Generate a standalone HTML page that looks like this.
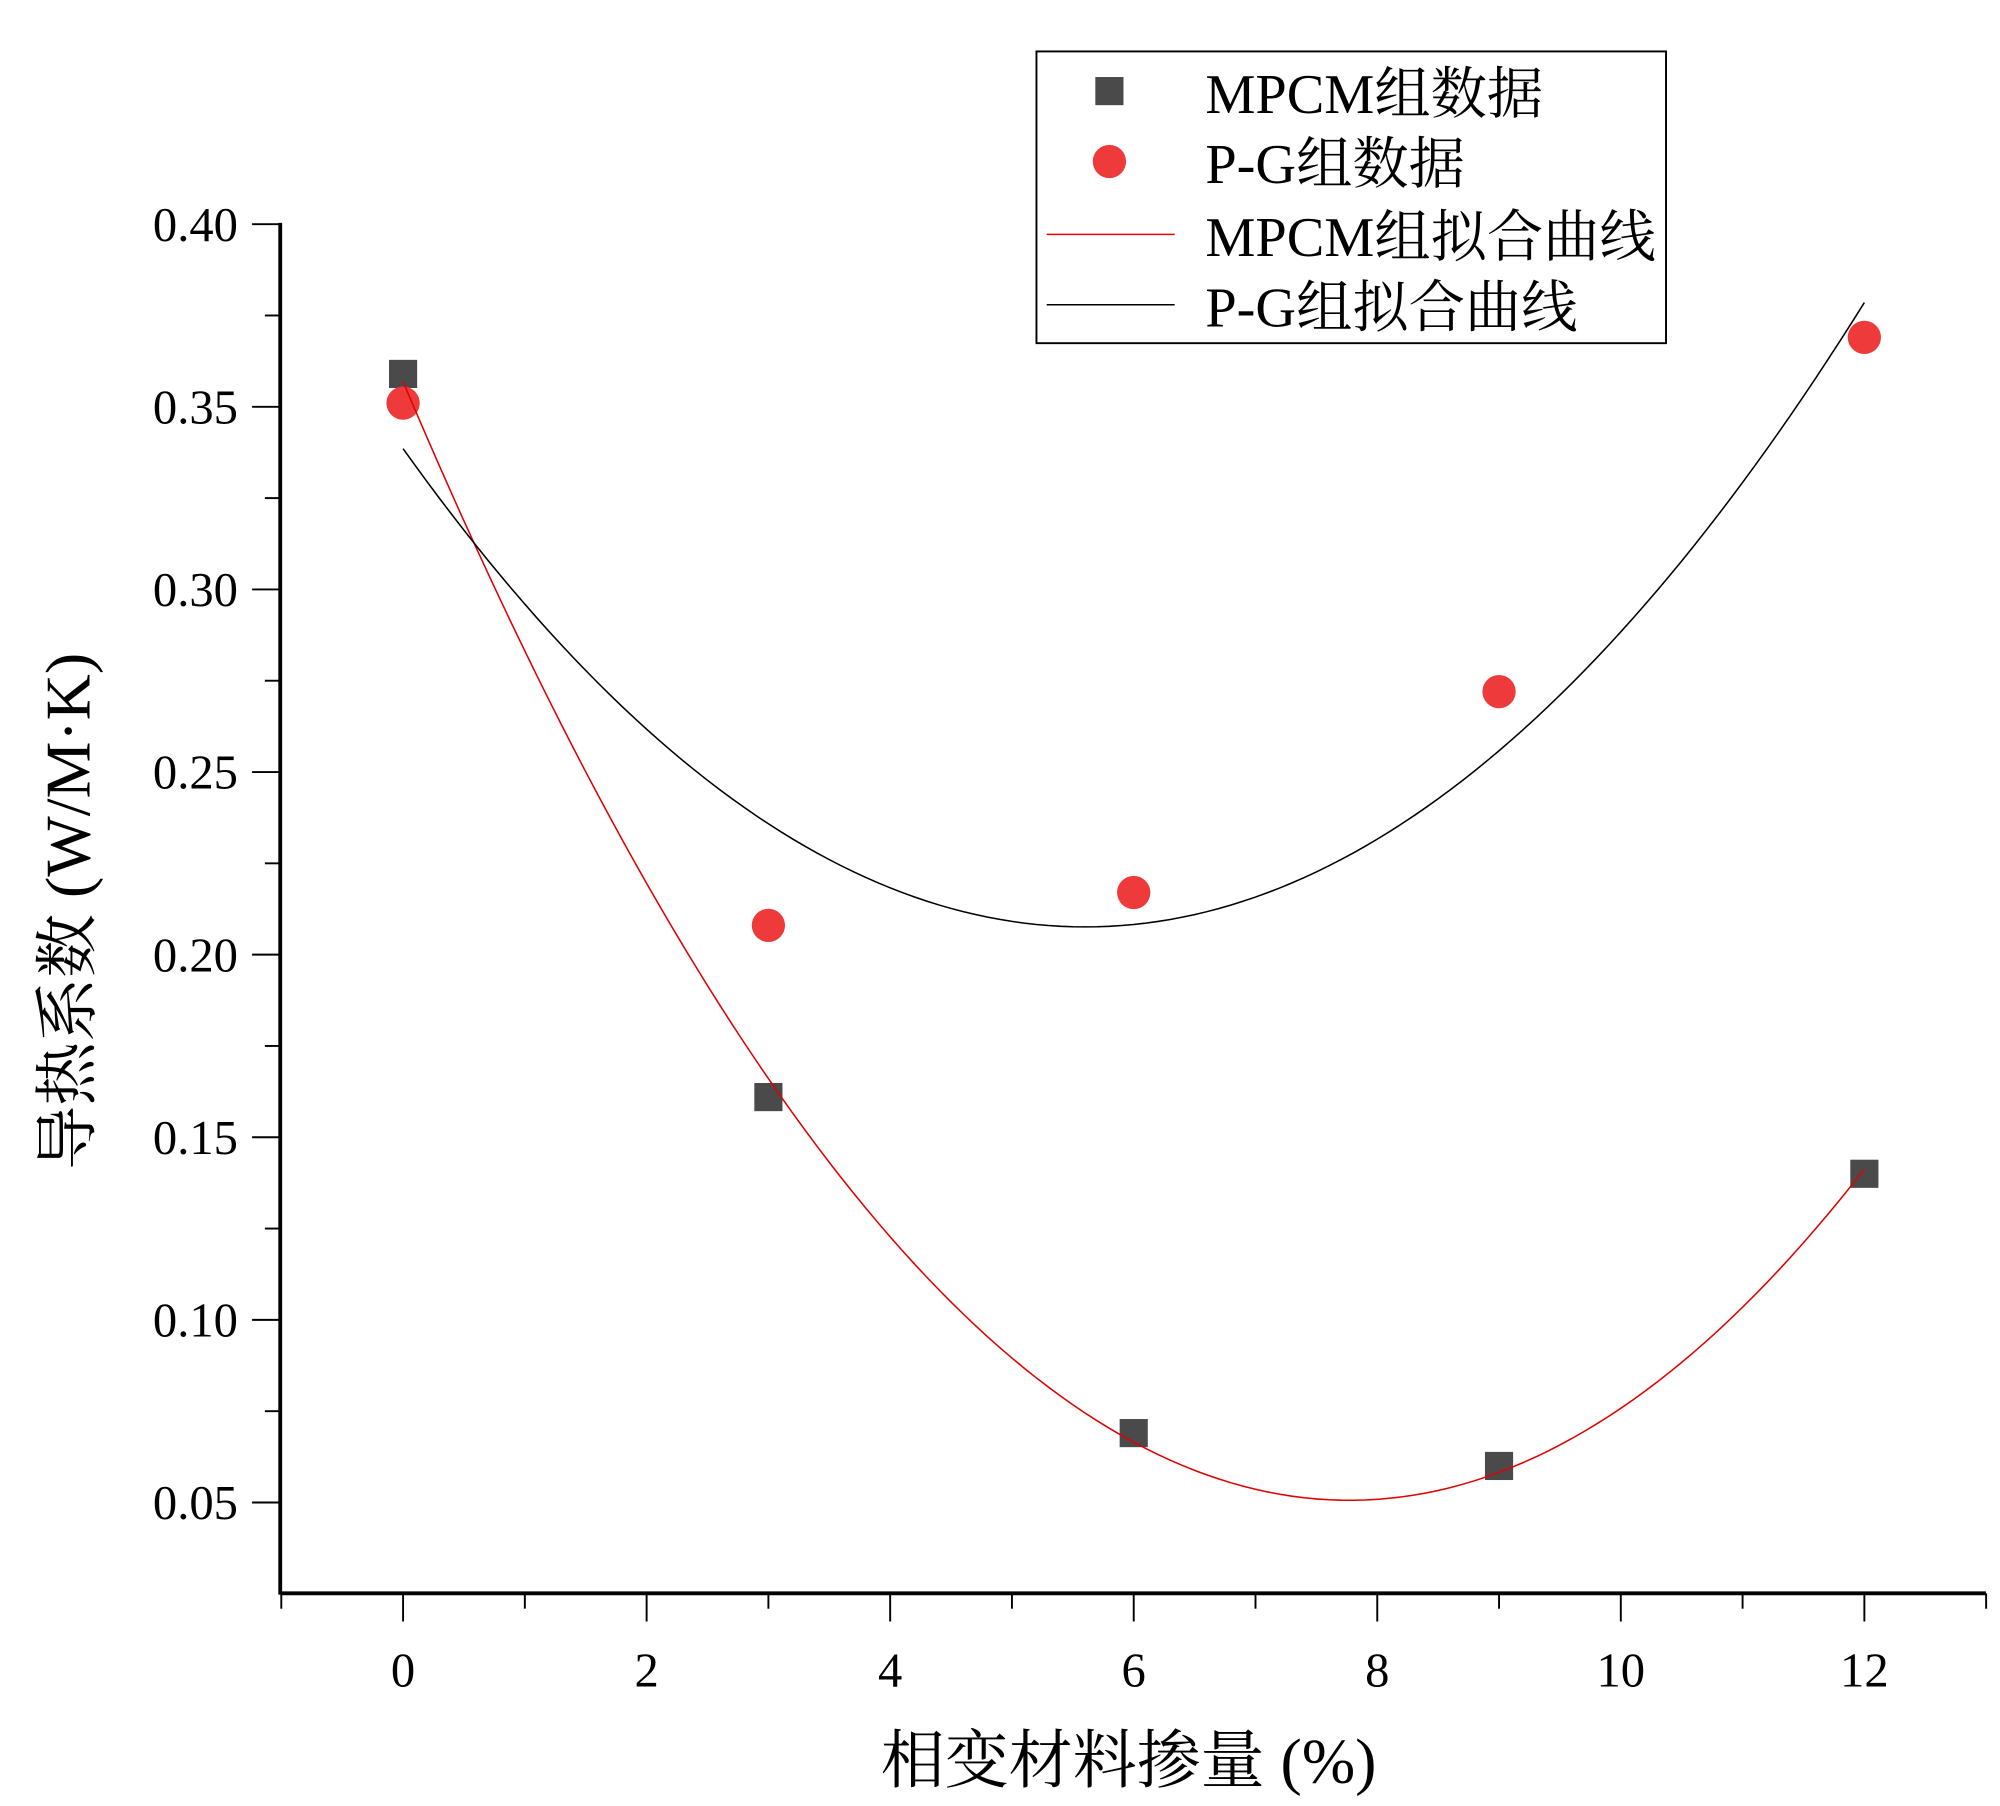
<!DOCTYPE html>
<html><head><meta charset="utf-8"><style>html,body{margin:0;padding:0;background:#fff}svg{display:block}</style></head>
<body>
<svg id="chart" width="2000" height="1806" viewBox="0 0 1563 1411" xmlns="http://www.w3.org/2000/svg" font-family="'Liberation Serif','Noto Serif CJK SC',serif">
<rect width="1563" height="1411" fill="#fff"/>
<g id="plot"></g>
<g>
<rect x="810" y="40" width="492" height="228" fill="#fff" stroke="#000" stroke-width="1.5"/>
<rect x="856" y="60" width="22" height="22" fill="#4a4a4a"/>
<text x="942" y="88" font-size="44">MPCM组数据</text>
<circle cx="867" cy="126" r="13" fill="#ee3a3a"/>
<text x="942" y="143" font-size="44">P-G组数据</text>
<line x1="818" y1="183" x2="918" y2="183" stroke="#e00" stroke-width="1.2"/>
<text x="942" y="200" font-size="44">MPCM组拟合曲线</text>
<line x1="818" y1="238" x2="918" y2="238" stroke="#000" stroke-width="1.2"/>
<text x="942" y="255" font-size="44">P-G组拟合曲线</text>
</g>
<text x="882" y="1393" font-size="50" text-anchor="middle">相变材料掺量 (%)</text>
<text transform="translate(70,712) rotate(-90)" font-size="50" text-anchor="middle">导热系数 (W/M·K)</text>
</svg>
<script>
const xs = [0, 3, 6, 9, 12];
const mpcm = [0.359, 0.161, 0.069, 0.060, 0.140];
const pg = [0.351, 0.208, 0.217, 0.272, 0.369];
const xTicks = [0, 2, 4, 6, 8, 10, 12];
const yTicks = [0.05, 0.10, 0.15, 0.20, 0.25, 0.30, 0.35, 0.40];
const yTickLabels = ["0.05", "0.10", "0.15", "0.20", "0.25", "0.30", "0.35", "0.40"];

const NS = "http://www.w3.org/2000/svg";
const X0 = 315, XS = (1457 - 315) / 12;
const Y0 = 175, YS = (1174 - 175) / 0.35;
const sx = v => X0 + v * XS;
const sy = v => Y0 + (0.40 - v) * YS;
const g = document.getElementById('plot');
function el(tag, attrs) { const e = document.createElementNS(NS, tag); for (const k in attrs) e.setAttribute(k, attrs[k]); g.appendChild(e); return e; }

// axes
let a = el('line', {x1: 219, y1: 1245, x2: 1552, y2: 1245, stroke: '#000', 'stroke-width': 3});


a = el('line', {x1: 219, y1: 174, x2: 219, y2: 1246, stroke: '#000', 'stroke-width': 3});



// x ticks
for (let v = -1; v <= 13; v++) {
  const major = v % 2 === 0;
  const t = el('line', {x1: sx(v), y1: 1245, x2: sx(v), y2: 1245 + (major ? 22 : 12), stroke: '#000', 'stroke-width': 1.5});
  
  
}
xTicks.forEach(v => {
  const t = el('text', {x: sx(v), y: 1318, 'font-size': 38, 'text-anchor': 'middle'});
  t.textContent = v;
  
  
});
// y ticks
for (let i = 1; i <= 15; i++) {
  const v = 0.025 * i + 0.025;
  if (v > 0.4001) break;
  const major = i % 2 === 1;
  const t = el('line', {x1: 219, y1: sy(v), x2: 219 - (major ? 22 : 12), y2: sy(v), stroke: '#000', 'stroke-width': 1.5});
  
  
}
yTicks.forEach((v, i) => {
  const t = el('text', {x: 186, y: sy(v) + 13, 'font-size': 38, 'text-anchor': 'end'});
  t.textContent = yTickLabels[i];
  
  
});

// quadratic least squares fit
function quadFit(x, y) {
  const S = k => x.reduce((s, xi) => s + Math.pow(xi, k), 0);
  const T = k => x.reduce((s, xi, i) => s + Math.pow(xi, k) * y[i], 0);
  const M = [[S(0), S(1), S(2), T(0)], [S(1), S(2), S(3), T(1)], [S(2), S(3), S(4), T(2)]];
  for (let i = 0; i < 3; i++) {
    for (let j = i + 1; j < 3; j++) { const f = M[j][i] / M[i][i]; for (let k = i; k < 4; k++) M[j][k] -= f * M[i][k]; }
  }
  const c = [0, 0, 0];
  for (let i = 2; i >= 0; i--) { let s = M[i][3]; for (let k = i + 1; k < 3; k++) s -= M[i][k] * c[k]; c[i] = s / M[i][i]; }
  return c;
}
function curve(ys, color, name) {
  const c = quadFit(xs, ys);
  let d = '';
  for (let i = 0; i <= 120; i++) { const x = 12 * i / 120; const y = c[0] + c[1] * x + c[2] * x * x; d += (i ? 'L' : 'M') + sx(x).toFixed(2) + ',' + sy(y).toFixed(2); }
  const p = el('path', {d: d, fill: 'none', stroke: color, 'stroke-width': 1.2});
  
  
}
xs.forEach((x, i) => {
  const r = el('rect', {x: sx(x) - 11, y: sy(mpcm[i]) - 11, width: 22, height: 22, fill: '#4a4a4a'});
  
  
});
xs.forEach((x, i) => {
  const c = el('circle', {cx: sx(x), cy: sy(pg[i]), r: 13, fill: '#ee3a3a'});
  
  
});
curve(mpcm, '#e00000', 'mpcm-fit-curve');
curve(pg, '#000000', 'pg-fit-curve');
</script>
</body></html>
